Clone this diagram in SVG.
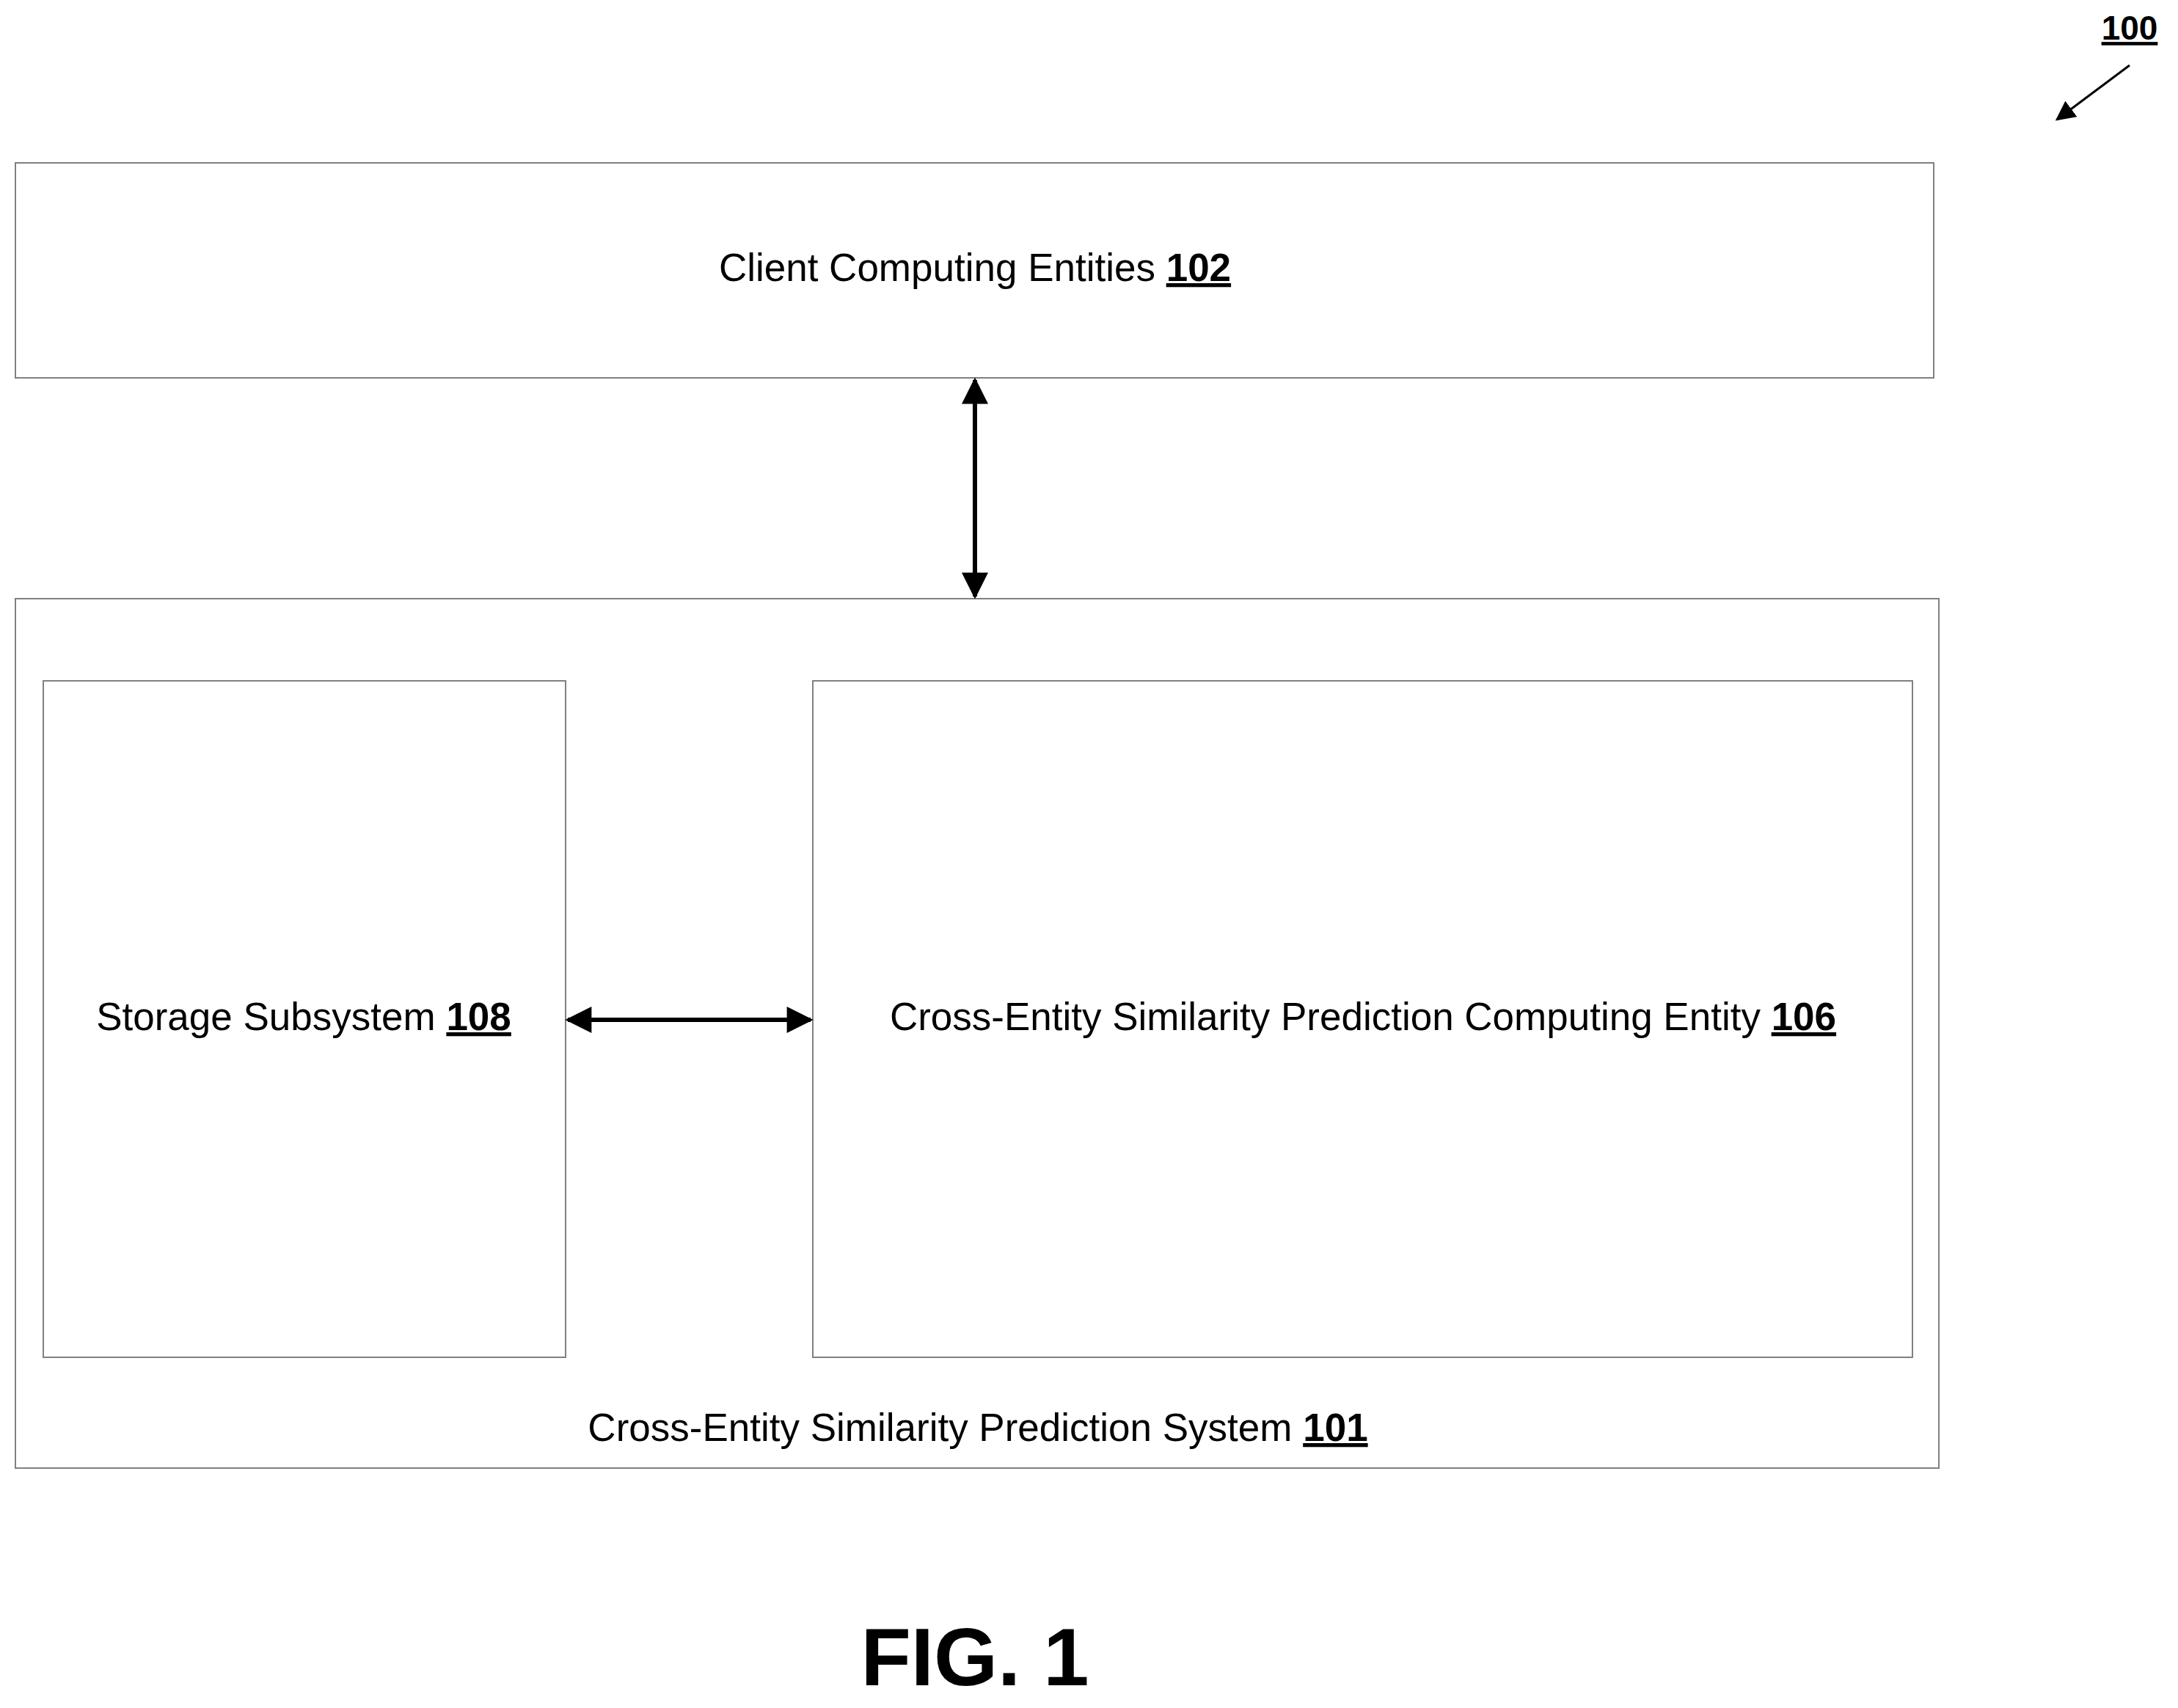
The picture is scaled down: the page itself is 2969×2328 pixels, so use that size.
<svg xmlns="http://www.w3.org/2000/svg" width="2969" height="2328" viewBox="0 0 2969 2328">
<style>
.box{fill:#fff;stroke:#808080;stroke-width:2}
.t{font-family:"Liberation Sans",Arial,sans-serif;font-size:53px;fill:#000;text-anchor:middle;dominant-baseline:middle}
.n{font-weight:bold;text-decoration:underline}
.c{stroke:#000;stroke-width:6;fill:none}
</style>
<defs>
<marker id="ah" viewBox="0 0 10 10" refX="9" refY="5" markerWidth="6.5" markerHeight="6" orient="auto-start-reverse" markerUnits="strokeWidth">
<path d="M0,0 L10,5 L0,10 z" fill="#000"/>
</marker>
<marker id="ah2" viewBox="0 0 10 10" refX="9" refY="5" markerWidth="9" markerHeight="9" orient="auto" markerUnits="strokeWidth">
<path d="M0,0 L10,5 L0,10 z" fill="#000"/>
</marker>
</defs>
<rect width="2969" height="2328" fill="#fff"/>
<g id="n101"><rect class="box" x="21" y="816" width="2622" height="1185"/>
<text class="t" x="1333" y="1950">Cross-Entity Similarity Prediction System <tspan class="n">101</tspan></text></g>
<g id="n102"><rect class="box" x="21" y="222" width="2615" height="293"/>
<text class="t" x="1329" y="369">Client Computing Entities <tspan class="n">102</tspan></text></g>
<g id="n108"><rect class="box" x="59" y="928" width="712" height="922"/>
<text class="t" x="414" y="1390">Storage Subsystem <tspan class="n">108</tspan></text></g>
<g id="n106"><rect class="box" x="1108" y="928" width="1499" height="922"/>
<text class="t" x="1858" y="1390">Cross-Entity Similarity Prediction Computing Entity <tspan class="n">106</tspan></text></g>
<g id="connectors">
<line class="c" x1="1329" y1="518" x2="1329" y2="813" marker-start="url(#ah)" marker-end="url(#ah)"/>
<line class="c" x1="774" y1="1390" x2="1105" y2="1390" marker-start="url(#ah)" marker-end="url(#ah)"/>
<line x1="2903" y1="89" x2="2804" y2="163" stroke="#000" stroke-width="3" marker-end="url(#ah2)"/>
</g>
<text class="t n" x="2903" y="42" style="font-size:46px">100</text>
<text class="t" x="1329" y="2267" style="font-size:112px;font-weight:bold">FIG. 1</text>
</svg>
